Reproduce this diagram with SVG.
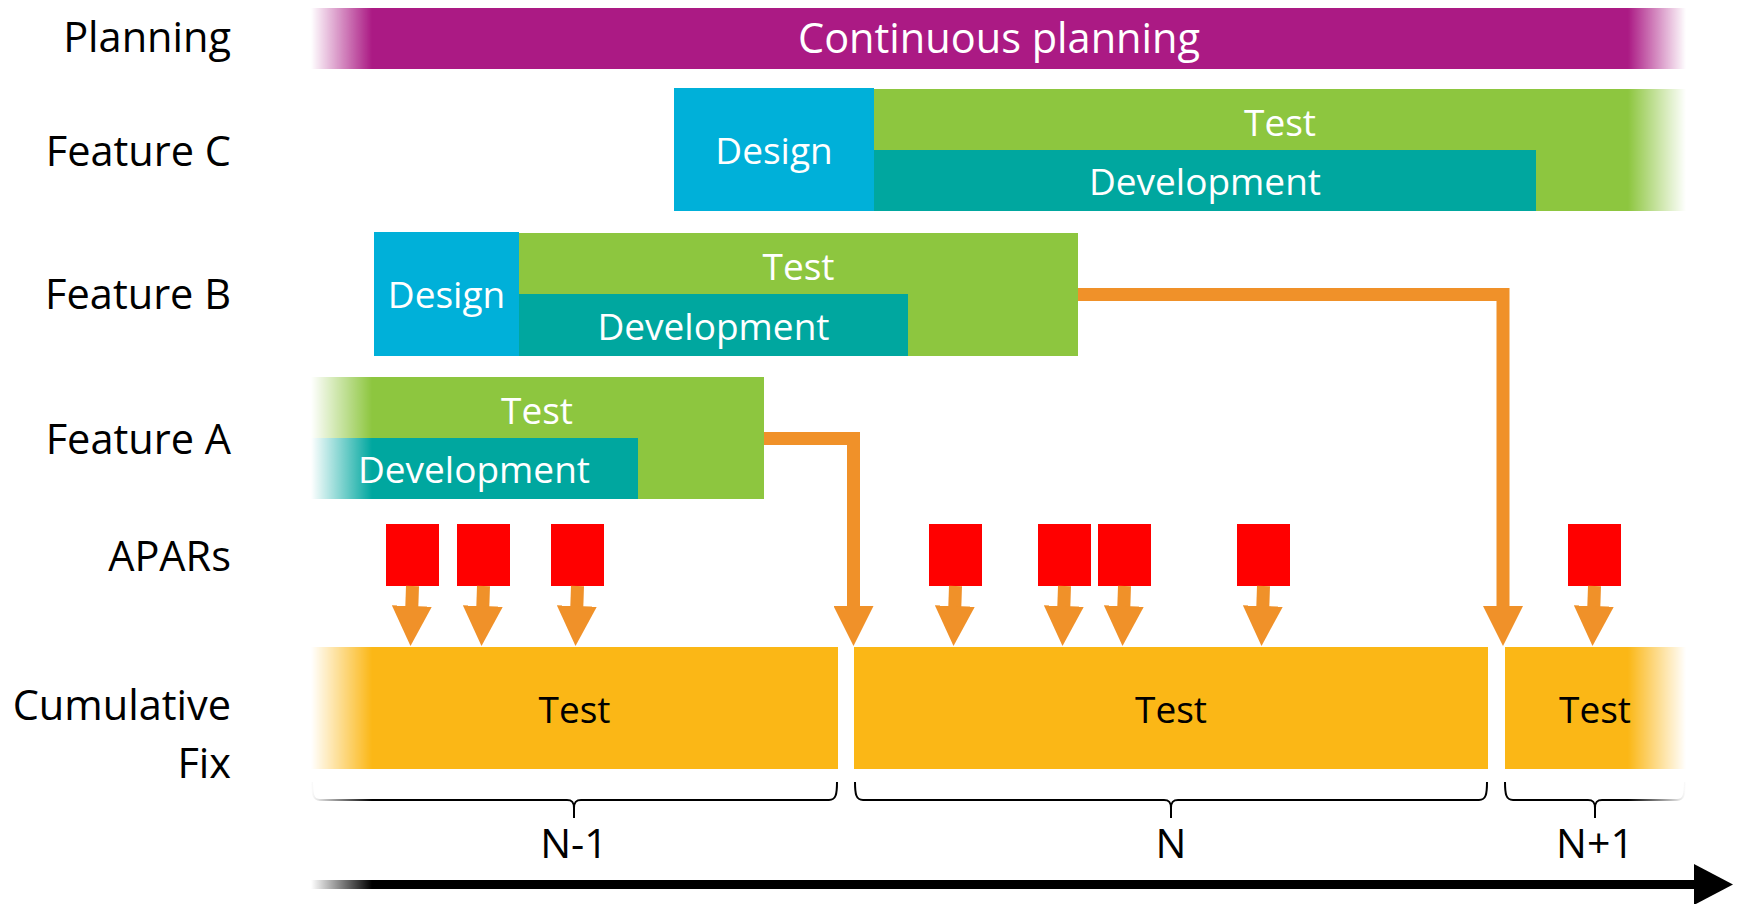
<svg xmlns="http://www.w3.org/2000/svg" width="1740" height="904" viewBox="0 0 1740 904">
<style>
.lbl{font-family:"Open Sans","Liberation Sans",sans-serif;font-size:41.5px;fill:#000;text-anchor:end}
.in{font-family:"Open Sans","Liberation Sans",sans-serif;font-size:37px;fill:#fff;text-anchor:middle}
.blk{font-family:"Open Sans","Liberation Sans",sans-serif;font-size:37px;fill:#000;text-anchor:middle}
.tl{font-family:"Open Sans","Liberation Sans",sans-serif;font-size:41px;fill:#000;text-anchor:middle}
.purple{fill:#AB1A84}
.blue{fill:#00B0D9}
.green{fill:#8DC63F}
.teal{fill:#00A79F}
.yellow{fill:#FBB716}
.red{fill:#FF0000}
.conn{fill:none;stroke:#F09129;stroke-width:13;stroke-linejoin:miter;marker-end:url(#head)}
.brace{fill:none;stroke:#000;stroke-width:2}
</style>
<defs>
<linearGradient id="fadeG" gradientUnits="userSpaceOnUse" x1="311" y1="0" x2="1686" y2="0">
<stop offset="0" stop-color="#000"/>
<stop offset="0.0444" stop-color="#fff"/>
<stop offset="0.9578" stop-color="#fff"/>
<stop offset="1" stop-color="#000"/>
</linearGradient>
<linearGradient id="fadeLG" gradientUnits="userSpaceOnUse" x1="311" y1="0" x2="372" y2="0">
<stop offset="0" stop-color="#000"/>
<stop offset="1" stop-color="#fff"/>
</linearGradient>
<mask id="fade" maskUnits="userSpaceOnUse" x="0" y="0" width="1740" height="904">
<rect x="0" y="0" width="1740" height="904" fill="url(#fadeG)"/>
</mask>
<mask id="fadeL" maskUnits="userSpaceOnUse" x="0" y="0" width="1740" height="904">
<rect x="0" y="0" width="1740" height="904" fill="url(#fadeLG)"/>
</mask>
<marker id="head" markerUnits="userSpaceOnUse" markerWidth="40" markerHeight="40" viewBox="0 0 40 40" refX="1" refY="20" orient="auto">
<path d="M0,0 L40,20 L0,40 z" fill="#F09129"/>
</marker>
</defs>

<g id="row-labels">
<text class="lbl" x="231" y="52">Planning</text>
<text class="lbl" x="231" y="166">Feature C</text>
<text class="lbl" x="231" y="309">Feature B</text>
<text class="lbl" x="231" y="454">Feature A</text>
<text class="lbl" x="231" y="571">APARs</text>
<text class="lbl" x="231" y="720">Cumulative</text>
<text class="lbl" x="231" y="778">Fix</text>
</g>

<g id="planning">
<rect class="purple" x="311" y="8" width="1375" height="61" mask="url(#fade)"/>
<text class="in" x="999" y="53" style="font-size:41.5px">Continuous planning</text>
</g>

<g id="featureC">
<rect class="green" x="874" y="89" width="812" height="122" mask="url(#fade)"/>
<rect class="teal" x="874" y="150" width="662" height="61"/>
<rect class="blue" x="674" y="88" width="200" height="123"/>
<text class="in" x="774" y="164">Design</text>
<text class="in" x="1280" y="136">Test</text>
<text class="in" x="1205" y="195">Development</text>
</g>

<g id="featureB">
<rect class="green" x="519" y="233" width="559" height="123"/>
<rect class="teal" x="519" y="294" width="389" height="62"/>
<rect class="blue" x="374" y="232" width="145" height="124"/>
<text class="in" x="446.5" y="308">Design</text>
<text class="in" x="798.5" y="280">Test</text>
<text class="in" x="713.5" y="340">Development</text>
</g>

<g id="featureA">
<g mask="url(#fade)">
<rect class="green" x="311" y="377" width="453" height="122"/>
<rect class="teal" x="311" y="438" width="327" height="61"/>
</g>
<text class="in" x="537" y="424">Test</text>
<text class="in" x="474" y="483">Development</text>
</g>

<g id="apars">
<rect class="red" x="386" y="524" width="53" height="62"/>
<rect class="red" x="457" y="524" width="53" height="62"/>
<rect class="red" x="551" y="524" width="53" height="62"/>
<rect class="red" x="929" y="524" width="53" height="62"/>
<rect class="red" x="1038" y="524" width="53" height="62"/>
<rect class="red" x="1098" y="524" width="53" height="62"/>
<rect class="red" x="1237" y="524" width="53" height="62"/>
<rect class="red" x="1568" y="524" width="53" height="62"/>
</g>

<g id="cumulative-fix">
<g mask="url(#fade)">
<rect class="yellow" x="311" y="647" width="527" height="122"/>
<rect class="yellow" x="854" y="647" width="634" height="122"/>
<rect class="yellow" x="1505" y="647" width="181" height="122"/>
</g>
<text class="blk" x="574.5" y="723">Test</text>
<text class="blk" x="1171" y="723">Test</text>
<text class="blk" x="1595" y="723">Test</text>
</g>

<g id="connectors">
<path class="conn" d="M764,438.5 H853.5 V607"/>
<path class="conn" d="M1078,294.5 H1503 V607"/>
<path class="conn" d="M412.5,586 L411.8,607"/>
<path class="conn" d="M483.5,586 L482.8,607"/>
<path class="conn" d="M577.5,586 L576.8,607"/>
<path class="conn" d="M955.5,586 L954.8,607"/>
<path class="conn" d="M1064.5,586 L1063.8,607"/>
<path class="conn" d="M1124.5,586 L1123.8,607"/>
<path class="conn" d="M1263.5,586 L1262.8,607"/>
<path class="conn" d="M1594.5,586 L1593.8,607"/>
</g>

<g id="releases">
<g mask="url(#fade)">
<path class="brace" d="M312,782 C312,794 313,800 320,800 L567,800 C572,800 574,802 574,808 L574,818 M574,808 C574,802 576,800 581,800 L829,800 C836,800 837,794 837,782"/>
<path class="brace" d="M855,782 C855,794 856,800 863,800 L1164,800 C1169,800 1171,802 1171,808 L1171,818 M1171,808 C1171,802 1173,800 1178,800 L1479,800 C1486,800 1487,794 1487,782"/>
<path class="brace" d="M1505,782 C1505,794 1506,800 1513,800 L1588,800 C1593,800 1595,802 1595,808 L1595,818 M1595,808 C1595,802 1597,800 1602,800 L1677,800 C1684,800 1685,794 1685,782"/>
</g>
<text class="tl" x="574" y="858">N-1</text>
<text class="tl" x="1171" y="858">N</text>
<text class="tl" x="1595" y="858">N+1</text>
</g>

<g id="timeline">
<rect x="311" y="880" width="1385" height="9" fill="#000" mask="url(#fadeL)"/>
<polygon points="1694,864 1733,884.5 1694,905" fill="#000"/>
</g>
</svg>
